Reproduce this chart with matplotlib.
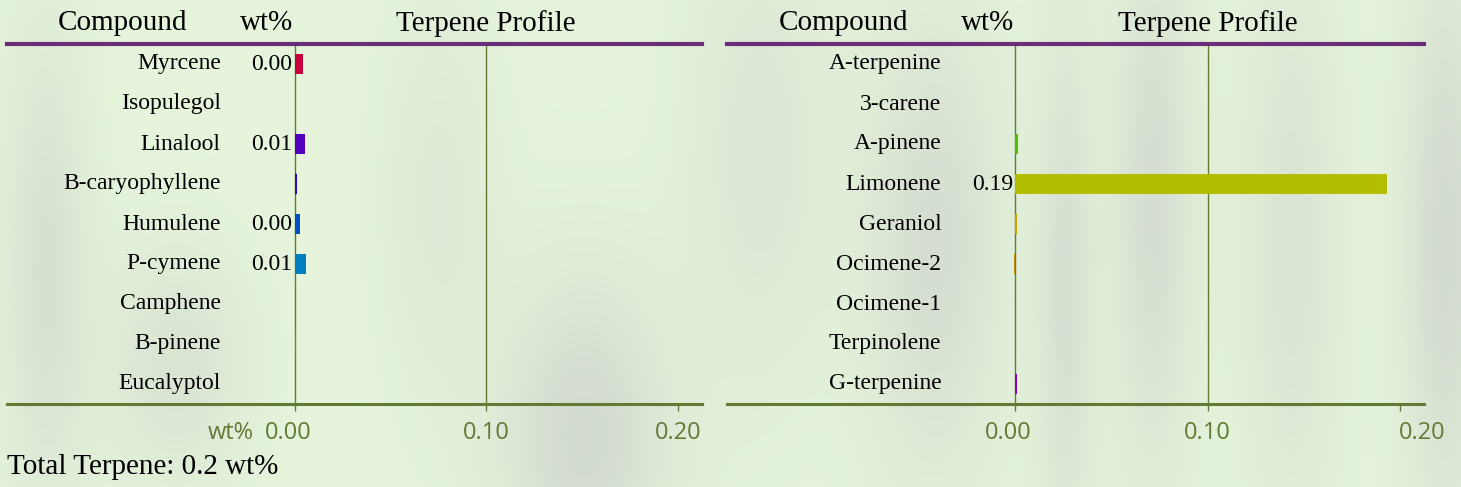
import matplotlib.pyplot as plt
import matplotlib.transforms as mtransforms
import numpy as np

# data (wt%)
left_compounds = ["Myrcene", "Isopulegol", "Linalool", "B-caryophyllene", "Humulene",
                  "P-cymene", "Camphene", "B-pinene", "Eucalyptol"]
left_values = [0.0045, 0.0, 0.0056, 0.0014, 0.0030, 0.0061, 0.0, 0.0007, 0.0]
left_colors = ["#c8003c", "#9a00c8", "#5200c0", "#2a0ac8", "#0050c8",
               "#0080c0", "#00a0a0", "#00c040", "#30c000"]

right_compounds = ["A-terpenine", "3-carene", "A-pinene", "Limonene", "Geraniol",
                   "Ocimene-2", "Ocimene-1", "Terpinolene", "G-terpenine"]
right_values = [0.0, 0.0, 0.0012, 0.193, 0.0007, -0.0006, 0.0, 0.0, 0.0009]
right_colors = ["#80c000", "#60c000", "#4cc000", "#b4be00", "#c8a000",
                "#c88c00", "#c86400", "#c83c00", "#8c00c8"]

ticks = [0.0, 0.10, 0.20]
tick_labels = ["0.00", "0.10", "0.20"]

SERIF = "Liberation Serif"
SANS = "Open Sans"
OLIVE = "#627a34"
PURPLE = "#6b2c7a"
W, H = 1461, 487


def background(fig):
    # soft blurred green / grey backdrop
    bg = fig.add_axes([0, 0, 1, 1], zorder=-10)
    x = np.linspace(0, 1, 400)
    y = np.linspace(0, 1, 140)
    X, Y = np.meshgrid(x, y)
    g = np.zeros_like(X)
    for cx, wx, amp, cy, wy in [(0.03, 0.03, 0.7, 0.55, 0.5), (0.12, 0.05, 0.6, 0.75, 0.25),
                                (0.40, 0.06, 0.9, 0.9, 0.35), (0.52, 0.05, 0.5, 0.3, 0.5),
                                (0.64, 0.05, 0.8, 0.5, 0.5), (0.73, 0.02, 0.7, 0.6, 0.6),
                                (0.79, 0.03, 0.8, 0.4, 0.6), (0.885, 0.035, 0.6, 0.5, 0.6),
                                (0.99, 0.03, 0.9, 0.5, 0.6), (0.30, 0.04, 0.4, 0.4, 0.4)]:
        g += amp * np.exp(-((X - cx) / wx) ** 2 - ((Y - cy) / wy) ** 2)
    g = np.clip(g, 0, 1)
    light = np.array([0.90, 0.96, 0.86])
    grey = np.array([0.82, 0.85, 0.81])
    img = light[None, None, :] * (1 - g[..., None]) + grey[None, None, :] * g[..., None]
    bg.imshow(img, aspect="auto", extent=[0, 1, 0, 1], interpolation="bicubic")
    bg.axis("off")


def panel(fig, rect, compounds, values, colors, offsets, left_unit=False):
    ax = fig.add_axes(rect)
    ax.patch.set_alpha(0)
    rows = np.arange(len(compounds))
    ax.barh(rows, values, height=0.5, color=colors, zorder=3)
    ax.set_xlim(-0.150, 0.2125)
    ax.set_ylim(len(compounds) - 0.5, -0.5)

    for r, name, v in zip(rows, compounds, values):
        ax.text(-0.0385, r, name, ha="right", va="center", fontsize=17, family=SERIF)
        if abs(v) >= 0.0025:
            ax.text(-0.0012, r, "%.2f" % v, ha="right", va="center", fontsize=17, family=SERIF)

    # headers
    hy = 1.057
    ax.text(-0.0895, hy, "Compound", transform=ax.get_xaxis_transform(),
            ha="center", va="center", fontsize=21, family=SERIF)
    ax.text(-0.0008, hy, "wt%", transform=ax.get_xaxis_transform(),
            ha="right", va="center", fontsize=21, family=SERIF)
    ax.text(0.10, hy, "Terpene Profile", transform=ax.get_xaxis_transform(),
            ha="center", va="center", fontsize=21, family=SERIF)

    # grid lines at 0 and 0.1
    for t in ticks[:2]:
        ax.axvline(t, color=OLIVE, lw=1, zorder=2)

    for s in ["left", "right"]:
        ax.spines[s].set_visible(False)
    ax.spines["top"].set_color(PURPLE)
    ax.spines["top"].set_linewidth(3)
    ax.spines["bottom"].set_color(OLIVE)
    ax.spines["bottom"].set_linewidth(2.2)

    ax.set_yticks([])
    ax.set_xticks(ticks)
    ax.set_xticklabels(tick_labels, family=SANS, fontsize=17, color=OLIVE)
    ax.tick_params(axis="x", length=5, width=1, color=OLIVE, pad=7.5)
    for lab, dx in zip(ax.get_xticklabels(), offsets):
        lab.set_transform(lab.get_transform() +
                          mtransforms.ScaledTranslation(dx / 100, 0, fig.dpi_scale_trans))

    if left_unit:
        ax.annotate("wt%", xy=(-0.0215, 0), xycoords=ax.get_xaxis_transform(),
                    xytext=(0, -12.5), textcoords="offset points",
                    ha="right", va="top", fontsize=17, family=SANS, color=OLIVE)
    return ax


fig = plt.figure(figsize=(W / 100, H / 100), dpi=100)
background(fig)

top, bottom = 44, 404
panel(fig, [7 / W, (H - bottom) / H, 695 / W, (bottom - top) / H],
      left_compounds, left_values, left_colors, [-6, 0, 0], left_unit=True)
panel(fig, [727 / W, (H - bottom) / H, 697 / W, (bottom - top) / H],
      right_compounds, right_values, right_colors, [-7, 0, 22])

total = sum(left_values) + sum(right_values)
fig.text(7 / W, (H - 467) / H, "Total Terpene: %.1f wt%%" % total,
         ha="left", va="center", fontsize=21, family=SERIF)

plt.savefig("out.png", dpi=100)
